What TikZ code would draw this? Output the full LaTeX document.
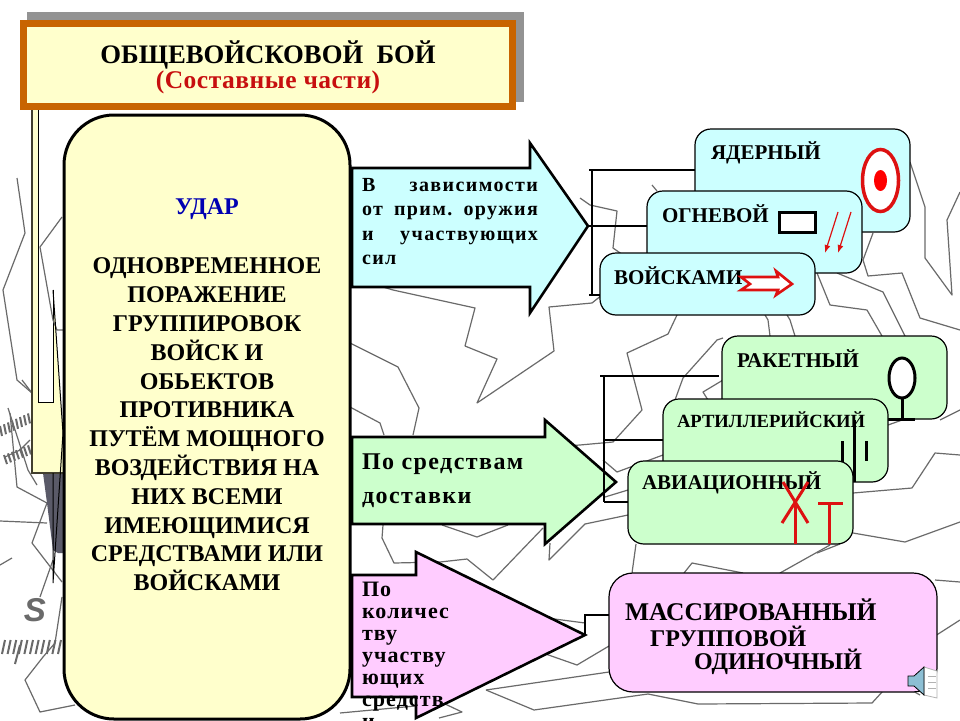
\documentclass[tikz,border=0pt]{standalone}
\usepackage{fontspec}
\usetikzlibrary{arrows.meta}
\setmainfont{Liberation Serif}
\setsansfont{Liberation Sans}

\definecolor{titleyellow}{HTML}{FFFFCC}
\definecolor{frameorange}{HTML}{C86400}
\definecolor{bluefill}{HTML}{CCFFFF}
\definecolor{greenfill}{HTML}{CCFFCC}
\definecolor{pinkfill}{HTML}{FFCCFF}
\definecolor{mapgrey}{HTML}{6A6A6A}
\definecolor{markred}{HTML}{DD1111}
\definecolor{shadowgrey}{HTML}{5A5A68}

\newcommand{\fs}[2]{\bfseries\fontsize{#1}{#2}\selectfont}
\newcommand{\lsp}[1]{\addfontfeature{LetterSpace=#1}}

\tikzset{
	map/.style={draw=mapgrey,line width=1.2pt,line join=round},
	card/.style={draw=black,line width=1.2pt,rounded corners=16pt,anchor=north west,inner sep=0pt,outer sep=0pt},
	bigarrow/.style={draw=black,line width=2.6pt,miter limit=10},
	lab/.style={inner sep=0pt,outer sep=0pt,anchor=west,font=\fs{21}{24}},
	bar/.style={draw=black,line width=2.2pt},
	redmark/.style={draw=markred,line width=3pt},
	redarrow/.style={-{Latex[length=8pt,width=6pt]},markred,line width=1.2pt},
	tick/.style={draw=mapgrey,line width=2pt}
}

\begin{document}
\begin{tikzpicture}[x=1pt,y=-1pt]

	% Blattgrenze
	\clip (0,0) rectangle (960,720);
	\fill[white] (0,0) rectangle (960,720);

	% Karte rechts
	\draw[map] (360,280) -- (393,290) -- (475,308) -- (465,346) -- (497,359) -- (477,403) -- (554,351) -- (549,307) -- (592,303) -- (602,295);
	\draw[map] (350,343) -- (398,367) -- (419,408) -- (413,435);
	\draw[map] (350,407) -- (380,423) -- (384,435);
	\draw[map] (677,315) -- (668,334) -- (627,353) -- (642,410) -- (613,442) -- (580,445) -- (550,447);
	\draw[map] (723,338) -- (717,340) -- (683,378) -- (675,400);
	\draw[map] (723,380) -- (703,392) -- (708,400);
	\draw[map] (603,460) -- (617,472) -- (663,455);
	\draw[map] (605,497) -- (628,490);
	\draw[map] (550,543) -- (549,560) -- (585,524) -- (628,515);
	\draw[map] (580,198) -- (590,205) -- (617,211) -- (613,248) -- (623,255);
	\draw[map] (652,185) -- (657,191);
	\draw[map] (765,315) -- (768,320) -- (770,336);
	\draw[map] (787,315) -- (790,320) -- (795,336);
	\draw[map] (910,162) -- (925,207) -- (925,258) -- (952,295) -- (947,220) -- (960,192);
	\draw[map] (873,233) -- (863,260) -- (868,276) -- (902,273) -- (920,318) -- (960,330);
	\draw[map] (817,273) -- (830,305) -- (867,310) -- (882,336);
	\draw[map] (837,273) -- (883,292) -- (897,320) -- (905,336);
	\draw[map] (960,410) -- (940,420);
	\draw[map] (888,425) -- (905,419);
	\draw[map] (960,455) -- (935,453) -- (912,488) -- (853,493);
	\draw[map] (960,522) -- (905,542) -- (853,533);
	\draw[map] (840,544) -- (817,553);
	\draw[map] (636,544) -- (632,573);
	\draw[map] (684,573) -- (692,563) -- (743,573);
	\draw[map] (830,545) -- (780,573);
	\draw[map] (935,580) -- (960,582);
	\draw[map] (935,636) -- (960,620);
	\draw[map] (486,690) -- (609,672);
	\draw[map] (486,690) -- (534,710) -- (648,694) -- (698,704) -- (872,703) -- (893,680) -- (920,695);
	\draw[map] (340,713) -- (415,706);
	\draw[map] (443,703) -- (462,712) -- (439,718);
	\draw[map] (383,525) -- (382,538) -- (394,563) -- (440,562) -- (467,559) -- (493,580) -- (543,528);
	\draw[map] (442,525) -- (477,537) -- (508,525);
	\draw[map] (547,618) -- (585,623);
	\draw[map] (540,652) -- (577,665) -- (609,646);

	% Karte links
	\draw[map] (17,178) -- (25,233) -- (3,290) -- (17,380) -- (32,393);
	\draw[map] (22,380) -- (32,393);
	\draw[map] (10,413) -- (17,487) -- (47,503);
	\draw[map] (47,503) -- (32,543) -- (62,582);
	\draw[map] (0,521) -- (47,523);
	\draw[map] (12,558) -- (0,565);
	\draw[map] (53,560) -- (40,597);
	\draw[map] (62,597) -- (55,643) -- (43,657) -- (25,680) -- (40,712) -- (75,705);
	\draw[map] (8,408) -- (28,470) -- (37,485);
	\draw[map] (5,457) -- (20,450) -- (30,440);

	% Kompass
	\foreach \t in {0,...,7}
		\draw[tick] (2+4*\t,436-1.8*\t) -- ++(-2,-10);
	\foreach \t in {0,...,6}
		\draw[tick] (7+4*\t,464-1.6*\t) -- ++(-3,-9);
	\foreach \t in {0,...,10}
		\draw[tick] (2+5.6*\t,654) -- ++(3,-14);
	\draw[tick] (15,664) -- (20,645);
	\node[inner sep=0pt,text=mapgrey,font=\sffamily\itshape\fs{33}{33}] (Sued) at (35,610) {S};

	% Schmaler Streifen
	\fill[shadowgrey] (43,473) -- (63,473) -- (63,553) -- (58,553) -- (53,550) -- (47,503) -- cycle;
	\fill[titleyellow] (32,108) -- (38,108) -- (38,402) -- (53,402) -- (53,290) -- (63,433) -- (63,473) -- (32,473) -- cycle;
	\draw[line width=1.2pt,draw=black!70!olive] (32,108) -- (32,473) -- (63,473);
	\draw[line width=1pt] (38,108) -- (38,402) -- (53,402) -- (53,290);
	\draw[map] (62,217) -- (40,247) -- (53,320) -- (57,330) -- (63,330);
	\draw[line width=1pt] (53,290) -- (63,433) -- (53,583) -- (53,473);

	% Titel
	\fill[gray!85] (27,12) rectangle (524,102);
	\draw[draw=frameorange,fill=titleyellow,line width=7.5pt] (23.5,23.5) rectangle (512.5,106.5);
	\node[lab,anchor=center,font=\fs{26.7}{30}] (Titel) at (268,55) {ОБЩЕВОЙСКОВОЙ\ \ БОЙ};
	\node[lab,anchor=center,text=markred!90!black,font=\fs{25.5}{26}\lsp{2}] (Teile) at (268,82) {(Составные части)};

	% Hauptfeld
	\node[card,fill=titleyellow,line width=3pt,rounded corners=50pt,minimum width=286pt,minimum height=604pt] (Haupt) at (64,115) {};
	\node[lab,anchor=center,text=blue!70!black,font=\fs{24}{26}] (Udar) at (207,209) {УДАР};
	\node[lab,anchor=north,align=center,font=\fs{24}{28.8}] (Text) at (207,258) {ОДНОВРЕМЕННОЕ\\ПОРАЖЕНИЕ\\ГРУППИРОВОК\\ВОЙСК И\\ОБЬЕКТОВ\\ПРОТИВНИКА\\ПУТЁМ МОЩНОГО\\ВОЗДЕЙСТВИЯ НА\\НИХ ВСЕМИ\\ИМЕЮЩИМИСЯ\\СРЕДСТВАМИ ИЛИ\\ВОЙСКАМИ};

	% Grosse Pfeile
	\draw[bigarrow,fill=bluefill] (352,168) -- (530,168) -- (530,143) -- (588,226) -- (530,313) -- (530,287) -- (352,287) -- cycle;
	\coordinate (TipA) at (588,226);
	\draw[bigarrow,fill=greenfill] (352,437) -- (545,437) -- (545,420) -- (616,482) -- (545,544) -- (545,524) -- (352,524) -- cycle;
	\coordinate (TipB) at (616,482);
	\draw[bigarrow,fill=pinkfill] (352,575) -- (416,575) -- (416,552) -- (585,635) -- (416,718) -- (416,697) -- (352,697) -- cycle;
	\coordinate (TipC) at (585,635);

	% Pfeiltexte
	\node[lab,anchor=north west,text width=176pt,align=left,font=\fs{20}{24.6}\lsp{7}] (TextA) at (362,178) {В\hfill зависимости\\от\hfill прим.\hfill оружия\\и\hfill участвующих\\сил};
	\node[lab,anchor=north west,align=left,font=\fs{24}{34}\lsp{6}] (TextB) at (362,454) {По средствам\\доставки};
	\node[lab,anchor=north west,align=left,font=\fs{22}{22}\lsp{5}] (TextC) at (362,582) {По\\количес\\тву\\участву\\ющих\\средств\\и};

	% Blaue Karten
	\node[card,fill=bluefill,minimum width=215pt,minimum height=103pt] (Jadern) at (695,129) {};
	\draw[draw=markred,fill=white,line width=3.5pt] (880.5,180.5) ellipse (18 and 31);
	\fill[red] (880.5,180.5) ellipse (6.5 and 10.5);
	\node[card,fill=bluefill,minimum width=215pt,minimum height=82pt] (Ognev) at (647,191) {};
	\node[card,fill=bluefill,minimum width=215pt,minimum height=62pt] (Voisk) at (600,253) {};
	\node[lab] (JadernL) at (711,153) {ЯДЕРНЫЙ};
	\node[lab,font=\fs{21}{24}] (OgnevL) at (662,214) {ОГНЕВОЙ};
	\node[lab,font=\fs{21}{24}] (VoiskL) at (614,276) {ВОЙСКАМИ};
	\draw[line width=3pt,fill=white] (779,212) rectangle (815,232);
	\draw[redarrow] (838,212) -- (825,253);
	\draw[redarrow] (851,212) -- (838,253);
	\draw[draw=markred,fill=white,line width=2.6pt] (741,277) -- (778,277) -- (776,271) -- (792,284) -- (776,295) -- (778,290) -- (741,290) -- (750,284) -- cycle;

	% Gruene Karten
	\node[card,fill=greenfill,minimum width=225pt,minimum height=83pt] (Raket) at (722,336) {};
	\draw[line width=3pt,fill=white] (902,378) ellipse (13 and 20);
	\draw[line width=3pt] (902,398) -- (902,419);
	\draw[line width=3pt] (888,419) -- (915,419);
	\node[card,fill=greenfill,minimum width=225pt,minimum height=83pt] (Artil) at (663,399) {};
	\draw[line width=3pt] (842,441) -- (842,462);
	\draw[line width=3pt] (854,420) -- (854,482);
	\draw[line width=3pt] (866,441) -- (866,461);
	\node[card,fill=greenfill,minimum width=225pt,minimum height=83pt] (Avia) at (628,461) {};
	\node[lab] (RaketL) at (737,359) {РАКЕТНЫЙ};
	\node[lab,font=\fs{18.6}{22}] (ArtilL) at (677,420) {АРТИЛЛЕРИЙСКИЙ};
	\node[lab] (AviaL) at (642,483) {АВИАЦИОННЫЙ};
	\draw[redmark] (783,482) -- (808,523);
	\draw[redmark] (808,482) -- (782,523);
	\draw[redmark] (795,505) -- (795,544);
	\draw[redmark] (818,503) -- (843,503);
	\draw[redmark] (829,503) -- (829,544);

	% Rosa Karte
	\node[card,fill=pinkfill,rounded corners=24pt,minimum width=328pt,minimum height=119pt] (Massir) at (609,573) {};
	\node[lab,font=\fs{25.5}{27}] (MassirL) at (625,610) {МАССИРОВАННЫЙ};
	\node[lab,font=\fs{24}{27}] (GruppL) at (650,636) {ГРУППОВОЙ};
	\node[lab,font=\fs{24}{27}] (OdinL) at (694,662) {ОДИНОЧНЫЙ};

	% Verbindungen
	\coordinate (BarA) at (592,170);
	\coordinate (BarB) at (592,295);
	\coordinate (BarAl) at (589,170);
	\coordinate (BarBl) at (589,295);
	\draw[bar] (BarA) -- (BarB);
	\draw[bar] (BarAl) -- (Jadern.west |- BarA);
	\draw[bar] (TipA) -- (Ognev.west |- TipA);
	\draw[bar] (BarBl) -- (Voisk.west |- BarB);

	\coordinate (BarC) at (604,376);
	\coordinate (BarCl) at (600,376);
	\coordinate (BarCr) at (719,376);
	\coordinate (BarE) at (604,440);
	\coordinate (BarD) at (604,502);
	\draw[bar] (BarCl) -- (BarCr);
	\draw[bar] (BarC) -- (BarD);
	\draw[bar] (BarE) -- (Artil.west |- BarE);
	\draw[bar] (BarD) -- (Avia.west |- BarD);

	\coordinate (BarF) at (585,615);
	\draw[line width=1.4pt] (TipC) -- (BarF) -- (Massir.west |- BarF);

	% Lautsprecher
	\draw[draw=gray!60,fill=white,line width=.8pt] (924,667) -- (937,671) -- (937,698) -- (924,695) -- cycle;
	\foreach \t in {676,682,688}
		\draw[gray!60,line width=.6pt] (928,\t) -- (936,\t);
	\draw[line width=.8pt,fill=cyan!50!gray!70] (908,676) -- (914,676) -- (924,667) -- (924,695) -- (914,686) -- (908,686) -- cycle;

\end{tikzpicture}
\end{document}
